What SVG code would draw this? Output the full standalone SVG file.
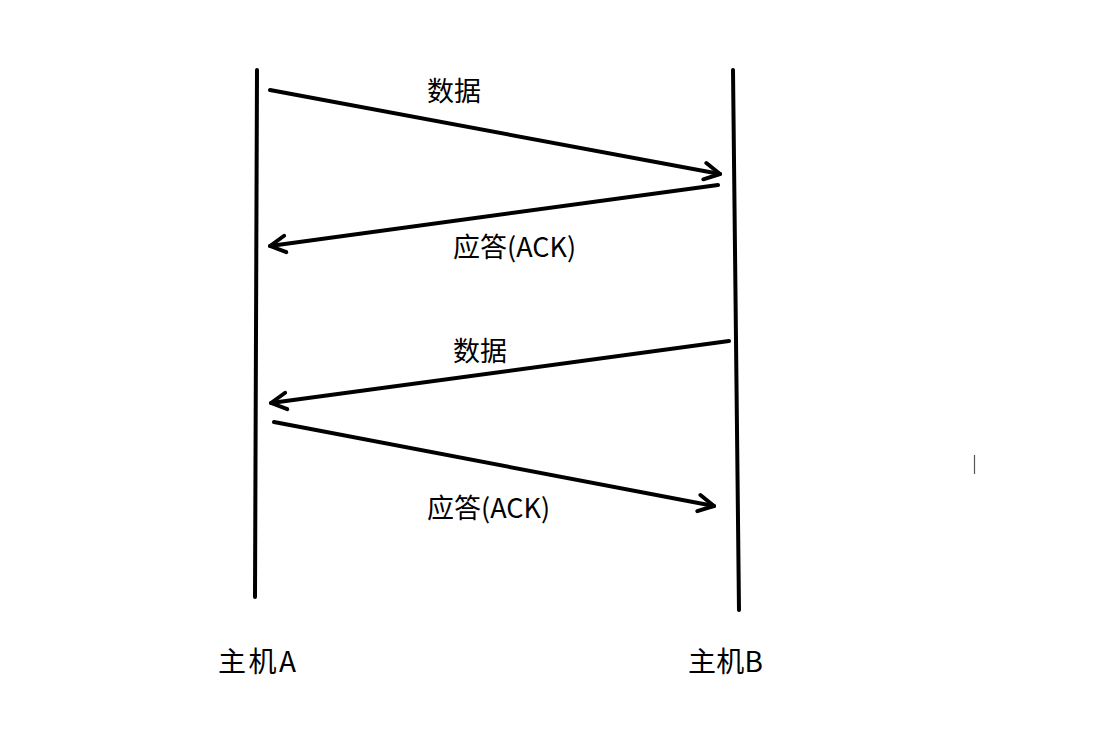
<svg xmlns="http://www.w3.org/2000/svg" width="1099" height="756" viewBox="0 0 1099 756">
<style>
.life{stroke:#000;stroke-width:4;stroke-linecap:round;fill:none}
.msg{stroke:#000;stroke-width:4;stroke-linecap:round;fill:none;marker-end:url(#ah)}
text{font-family:"Noto Sans CJK SC","Noto Sans",sans-serif;font-size:27px;fill:#000}
.host{font-size:28px}
</style>
<defs>
<marker id="ah" markerUnits="userSpaceOnUse" markerWidth="22" markerHeight="22" refX="16" refY="10" orient="auto" viewBox="0 0 20 20">
<path d="M2,2.5 L16,10 L2,17.5" fill="none" stroke="#000" stroke-width="3.6" stroke-linecap="round" stroke-linejoin="round"/>
</marker>
</defs>
<rect width="1099" height="756" fill="#fff"/>
<g id="hostA">
<line class="life" x1="257" y1="70" x2="255" y2="597"/>
<text class="host" x="218" y="672" textLength="78">主机A</text>
</g>
<g id="hostB">
<line class="life" x1="733" y1="70" x2="739" y2="610"/>
<text class="host" x="688" y="672" textLength="75">主机B</text>
</g>
<g id="connectors">
<line class="msg" x1="270" y1="90" x2="720" y2="174"/>
<line class="msg" x1="718" y1="185" x2="270" y2="246"/>
<line class="msg" x1="729" y1="341" x2="271" y2="403"/>
<line class="msg" x1="274" y1="422" x2="714" y2="506"/>
</g>
<g id="labels">
<text x="427" y="101">数据</text>
<text x="453" y="257">应答(ACK)</text>
<text x="453" y="361">数据</text>
<text x="427" y="518">应答(ACK)</text>
</g>
<line x1="974.5" y1="455" x2="974.5" y2="474" stroke="#555" stroke-width="1.2"/>
</svg>
